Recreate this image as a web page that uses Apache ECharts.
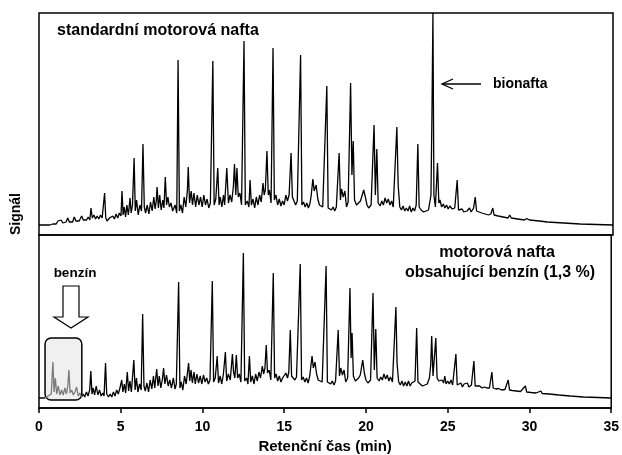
<!DOCTYPE html>
<html>
<head>
<meta charset="utf-8">
<script src="https://cdn.jsdelivr.net/npm/echarts/dist/echarts.min.js"></script>
<style>
  html, body { margin: 0; padding: 0; background: #fff; }
  #main { width: 622px; height: 455px; }
</style>
</head>
<body>
<div id="main"></div>
<script>
// retention time (min) and signal
const topTrace = [
  [0,10],[0.65,10],[0.75,12],[0.85,11],[0.95,13],[1.05,11],[1.15,14],[1.25,12],[1.35,15],[1.45,12],[1.55,14],[1.65,13],[1.75,17],[1.85,13],[1.95,15],[2.05,13],[2.15,18],[2.25,14],[2.35,16],[2.45,14],[2.6,19],[2.7,15],[2.8,17],[2.9,15],[3.0,18],[3.1,15],[3.17,27],[3.25,17],[3.35,20],[3.45,16],[3.55,19],[3.65,16],[3.75,20],[3.85,17],[3.95,18],[4.0,42],[4.07,17],[4.15,14],[4.3,17],[4.4,15],[4.5,19],[4.6,16],[4.7,21],[4.8,17],[4.9,22],[5.0,19],[5.06,44],[5.13,20],[5.2,28],[5.28,18],[5.36,30],[5.45,20],[5.55,37],[5.62,22],[5.7,30],[5.8,77],[5.87,24],[5.95,35],[6.05,20],[6.15,30],[6.25,24],[6.34,91],[6.42,28],[6.5,22],[6.6,30],[6.7,21],[6.8,33],[6.9,24],[7.0,38],[7.08,26],[7.15,34],[7.2,48],[7.28,27],[7.36,40],[7.45,25],[7.55,35],[7.62,27],[7.7,58],[7.78,30],[7.86,38],[7.95,28],[8.05,32],[8.15,24],[8.3,30],[8.4,22],[8.48,175],[8.56,24],[8.65,30],[8.75,22],[8.85,38],[8.95,28],[9.05,45],[9.1,68],[9.18,32],[9.28,44],[9.36,30],[9.45,42],[9.55,28],[9.65,40],[9.75,30],[9.85,38],[9.95,28],[10.05,40],[10.15,30],[10.25,36],[10.35,27],[10.45,32],[10.6,174],[10.68,30],[10.78,36],[10.9,67],[10.98,30],[11.05,38],[11.15,28],[11.25,40],[11.32,30],[11.45,67],[11.55,32],[11.65,40],[11.75,33],[11.85,48],[11.92,71],[12.0,40],[12.07,67],[12.15,38],[12.25,42],[12.35,30],[12.5,194],[12.58,30],[12.7,34],[12.8,28],[12.87,55],[12.95,30],[13.05,36],[13.15,27],[13.25,38],[13.35,30],[13.45,40],[13.55,33],[13.66,52],[13.73,40],[13.8,45],[13.9,84],[13.98,40],[14.05,45],[14.15,32],[14.27,187],[14.35,35],[14.45,40],[14.55,30],[14.65,36],[14.75,29],[14.85,34],[14.95,30],[15.05,40],[15.15,34],[15.25,40],[15.37,82],[15.45,38],[15.55,36],[15.65,30],[15.75,34],[15.95,180],[16.03,30],[16.13,33],[16.23,28],[16.33,32],[16.43,27],[16.53,32],[16.6,40],[16.7,56],[16.78,44],[16.9,50],[17.0,36],[17.1,30],[17.2,32],[17.3,28],[17.55,149],[17.63,27],[17.73,29],[17.83,25],[17.93,28],[18.03,24],[18.13,28],[18.3,82],[18.38,35],[18.45,46],[18.55,38],[18.65,44],[18.75,28],[18.85,33],[19.0,152],[19.08,60],[19.16,94],[19.24,35],[19.36,30],[19.48,28],[19.6,34],[19.7,36],[19.8,45],[19.9,38],[20.0,30],[20.1,27],[20.25,30],[20.43,110],[20.51,40],[20.6,86],[20.68,32],[20.8,29],[20.9,34],[21.0,30],[21.1,37],[21.2,32],[21.3,36],[21.4,30],[21.5,34],[21.6,28],[21.82,108],[21.9,50],[22.0,28],[22.1,25],[22.2,29],[22.3,24],[22.4,27],[22.5,24],[22.6,29],[22.7,23],[22.8,27],[22.9,24],[23.0,30],[23.1,91],[23.18,28],[23.3,25],[23.45,23],[23.6,24],[23.75,25],[23.9,40],[23.96,120],[24.02,222],[24.08,40],[24.17,28],[24.3,72],[24.38,32],[24.45,35],[24.55,28],[24.65,31],[24.75,27],[24.85,30],[24.95,26],[25.05,29],[25.2,26],[25.35,27],[25.5,55],[25.58,25],[25.7,24],[25.8,26],[25.9,23],[26.0,25],[26.1,24],[26.25,27],[26.35,23],[26.5,27],[26.6,38],[26.68,24],[26.8,22],[27.0,22],[27.2,21],[27.4,20],[27.55,21],[27.67,27],[27.75,20],[28.0,19],[28.3,18],[28.6,17],[28.7,20],[28.8,17],[29.2,16],[29.6,15],[29.75,16.5],[29.9,15],[30.5,14],[31,13],[32,12],[33,11],[34,10.5],[35,10]
];

const bottomTrace = [
  [0,10],[0.37,10],[0.45,10],[0.55,12],[0.65,11],[0.75,14],[0.85,46],[0.92,16],[1.0,30],[1.08,14],[1.18,22],[1.28,13],[1.38,18],[1.48,13],[1.58,20],[1.68,14],[1.76,22],[1.83,38],[1.9,15],[2.0,18],[2.1,13],[2.2,16],[2.3,21],[2.4,12],[2.5,15],[2.6,11],
  [2.7,14],[2.8,11],[2.9,16],[3.0,12],[3.1,18],[3.17,37],[3.24,14],[3.32,20],[3.4,13],[3.5,22],[3.6,13],[3.7,18],[3.8,12],[3.9,15],[3.98,12],[4.07,45],[4.14,14],[4.25,11],[4.35,14],[4.45,11],[4.55,16],[4.65,12],[4.75,18],[4.85,14],[4.95,20],[5.06,28],[5.13,16],[5.22,24],[5.3,15],[5.4,36],[5.48,17],[5.56,27],[5.65,16],[5.8,48],[5.88,18],[5.96,30],[6.05,16],[6.15,24],[6.25,18],[6.34,94],[6.42,22],[6.5,17],[6.6,25],[6.7,16],[6.8,28],[6.9,19],[7.0,32],[7.08,20],[7.2,39],[7.28,22],[7.36,32],[7.45,20],[7.55,29],[7.62,40],[7.7,24],[7.8,33],[7.9,22],[8.0,28],[8.1,20],[8.22,30],[8.32,19],[8.4,24],[8.54,126],[8.62,20],[8.7,26],[8.8,18],[8.9,32],[9.0,24],[9.15,45],[9.22,27],[9.3,38],[9.38,25],[9.48,36],[9.56,24],[9.66,34],[9.76,25],[9.86,32],[9.96,24],[10.06,33],[10.16,26],[10.26,30],[10.36,24],[10.46,28],[10.6,127],[10.68,26],[10.78,30],[10.9,52],[10.98,25],[11.08,32],[11.18,24],[11.28,34],[11.4,56],[11.48,27],[11.58,34],[11.7,28],[11.83,54],[11.9,36],[11.98,30],[12.07,53],[12.15,30],[12.25,34],[12.35,26],[12.5,155],[12.58,27],[12.7,30],[12.78,24],[12.87,52],[12.95,26],[13.05,32],[13.15,24],[13.25,34],[13.35,27],[13.45,36],[13.55,30],[13.66,42],[13.74,34],[13.82,40],[13.9,63],[13.98,35],[14.08,38],[14.18,28],[14.33,135],[14.41,30],[14.5,34],[14.6,27],[14.7,32],[14.8,26],[14.9,30],[15.0,28],[15.1,35],[15.2,30],[15.28,36],[15.37,78],[15.45,32],[15.55,34],[15.65,28],[15.75,31],[15.98,144],[16.06,28],[16.16,31],[16.26,26],[16.36,30],[16.46,25],[16.56,32],[16.7,52],[16.78,40],[16.88,46],[16.98,34],[17.08,28],[17.2,30],[17.32,26],[17.56,142],[17.64,26],[17.74,28],[17.84,24],[17.94,27],[18.04,23],[18.14,27],[18.3,78],[18.38,32],[18.46,40],[18.56,33],[18.66,38],[18.76,26],[18.88,30],[19.02,120],[19.09,50],[19.15,75],[19.23,32],[19.35,27],[19.45,25],[19.55,30],[19.65,33],[19.8,48],[19.9,35],[20.0,28],[20.12,25],[20.28,28],[20.43,115],[20.51,38],[20.6,79],[20.68,30],[20.8,27],[20.9,31],[21.0,28],[21.1,34],[21.2,29],[21.3,33],[21.4,27],[21.5,31],[21.62,26],[21.83,101],[21.9,45],[22.0,26],[22.1,23],[22.2,27],[22.3,22],[22.4,26],[22.5,22],[22.6,27],[22.7,22],[22.8,25],[22.9,23],[23.0,27],[23.1,80],[23.18,26],[23.3,24],[23.45,22],[23.6,23],[23.75,24],[23.88,30],[23.96,43],[24.02,72],[24.1,32],[24.18,30],[24.27,70],[24.35,30],[24.45,27],[24.55,25],[24.65,28],[24.75,25],[24.82,32],[24.9,24],[25.0,27],[25.1,24],[25.2,28],[25.3,23],[25.4,25],[25.5,54],[25.58,23],[25.7,22],[25.8,25],[25.9,21],[26.0,24],[26.1,22],[26.2,25],[26.3,21],[26.45,23],[26.6,47],[26.68,22],[26.8,21],[26.95,22],[27.1,20],[27.25,21],[27.4,20],[27.55,20],[27.7,36],[27.78,20],[27.95,19],[28.1,19.5],[28.3,18],[28.5,18.5],[28.7,28],[28.78,18],[28.95,17.5],[29.2,17],[29.45,16.5],[29.75,22],[29.83,16],[30.1,15.5],[30.4,15],[30.7,17],[30.78,14.5],[31.2,14],[31.8,13],[32.5,12],[33.3,11],[34.2,10.5],[35,10]
];

const benzinStart = 0.37;          // grey (petrol) part of the lower trace
const benzinEnd = 2.6;
const benzinBox = [0.37, 8, 2.62, 70]; // t0, v0, t1, v1

const FONT = '"Liberation Sans", Arial, sans-serif';

const chart = echarts.init(document.getElementById('main'), null, { renderer: 'canvas' });

const gridStyle = { show: true, borderColor: '#000', borderWidth: 1.5, backgroundColor: 'transparent' };
const lineW = 1.3;

const option = {
  animation: false,
  backgroundColor: '#fff',
  grid: [
    Object.assign({ left: 39, right: 9, top: 13, height: 222 }, gridStyle),
    Object.assign({ left: 39, right: 9, top: 235, height: 173 }, gridStyle)
  ],
  xAxis: [
    { gridIndex: 0, type: 'value', min: 0, max: 35, show: false },
    {
      gridIndex: 1, type: 'value', min: 0, max: 35, interval: 5,
      axisLine: { show: true, lineStyle: { color: '#000', width: 1.5 } },
      axisTick: { show: true, length: 5, lineStyle: { color: '#000', width: 1.5 } },
      splitLine: { show: false },
      axisLabel: { color: '#000', fontFamily: FONT, fontWeight: 'bold', fontSize: 14, margin: 12 },
      name: 'Retenční čas (min)', nameLocation: 'middle', nameGap: 31,
      nameTextStyle: { color: '#000', fontFamily: FONT, fontWeight: 'bold', fontSize: 15 }
    }
  ],
  yAxis: [
    { gridIndex: 0, type: 'value', min: 0, max: 222, show: false },
    { gridIndex: 1, type: 'value', min: 0, max: 173, show: false }
  ],
  series: [
    {
      type: 'line', xAxisIndex: 0, yAxisIndex: 0, data: topTrace, showSymbol: false, z: 3,
      lineStyle: { color: '#000', width: lineW }
    },
    {
      type: 'line', xAxisIndex: 1, yAxisIndex: 1, data: bottomTrace.filter(p => p[0] <= benzinStart),
      showSymbol: false, z: 3, lineStyle: { color: '#000', width: lineW }
    },
    {
      type: 'line', xAxisIndex: 1, yAxisIndex: 1, data: bottomTrace.filter(p => p[0] >= benzinEnd),
      showSymbol: false, z: 3, lineStyle: { color: '#000', width: lineW }
    },
    {
      type: 'line', xAxisIndex: 1, yAxisIndex: 1,
      data: bottomTrace.filter(p => p[0] >= benzinStart && p[0] <= benzinEnd),
      showSymbol: false, z: 3, lineStyle: { color: '#7a7a7a', width: lineW }
    }
  ]
};

chart.setOption(option);

const p0 = chart.convertToPixel({ gridIndex: 1 }, [benzinBox[0], benzinBox[3]]);
const p1 = chart.convertToPixel({ gridIndex: 1 }, [benzinBox[2], benzinBox[1]]);

const txt = (x, y, text, size, align) => ({
  type: 'text', x: x, y: y,
  style: { text: text, fill: '#000', font: 'bold ' + size + 'px ' + FONT, textAlign: align || 'left', textVerticalAlign: 'middle' }
});

chart.setOption({
  graphic: [
    {
      type: 'rect', z: 1,
      shape: { x: p0[0], y: p0[1], width: p1[0] - p0[0], height: p1[1] - p0[1], r: 6 },
      style: { fill: '#f0f0f0', stroke: '#000', lineWidth: 1.5 }
    },
    {
      type: 'polygon', z: 5,
      shape: { points: [[63, 286], [79, 286], [79, 317], [88, 317], [71, 328], [54, 317], [63, 317]] },
      style: { fill: '#fff', stroke: '#000', lineWidth: 1.2 }
    },
    txt(75, 273, 'benzín', 13.5, 'center'),
    txt(57, 31, 'standardní motorová nafta', 16),
    txt(493, 84, 'bionafta', 14),
    {
      type: 'polyline', z: 5,
      shape: { points: [[481, 84], [442, 84]] },
      style: { stroke: '#000', lineWidth: 1.3 }
    },
    {
      type: 'polyline', z: 5,
      shape: { points: [[453, 79], [442, 84], [453, 89]] },
      style: { stroke: '#000', lineWidth: 1.3, fill: null }
    },
    txt(497, 253, 'motorová nafta', 16, 'center'),
    txt(500, 273, 'obsahující benzín (1,3 %)', 16, 'center'),
    {
      type: 'text', x: 16, y: 214, rotation: Math.PI / 2,
      style: { text: 'Signál', fill: '#000', font: 'bold 14px ' + FONT, textAlign: 'center', textVerticalAlign: 'middle' }
    }
  ]
});
</script>
</body>
</html>
